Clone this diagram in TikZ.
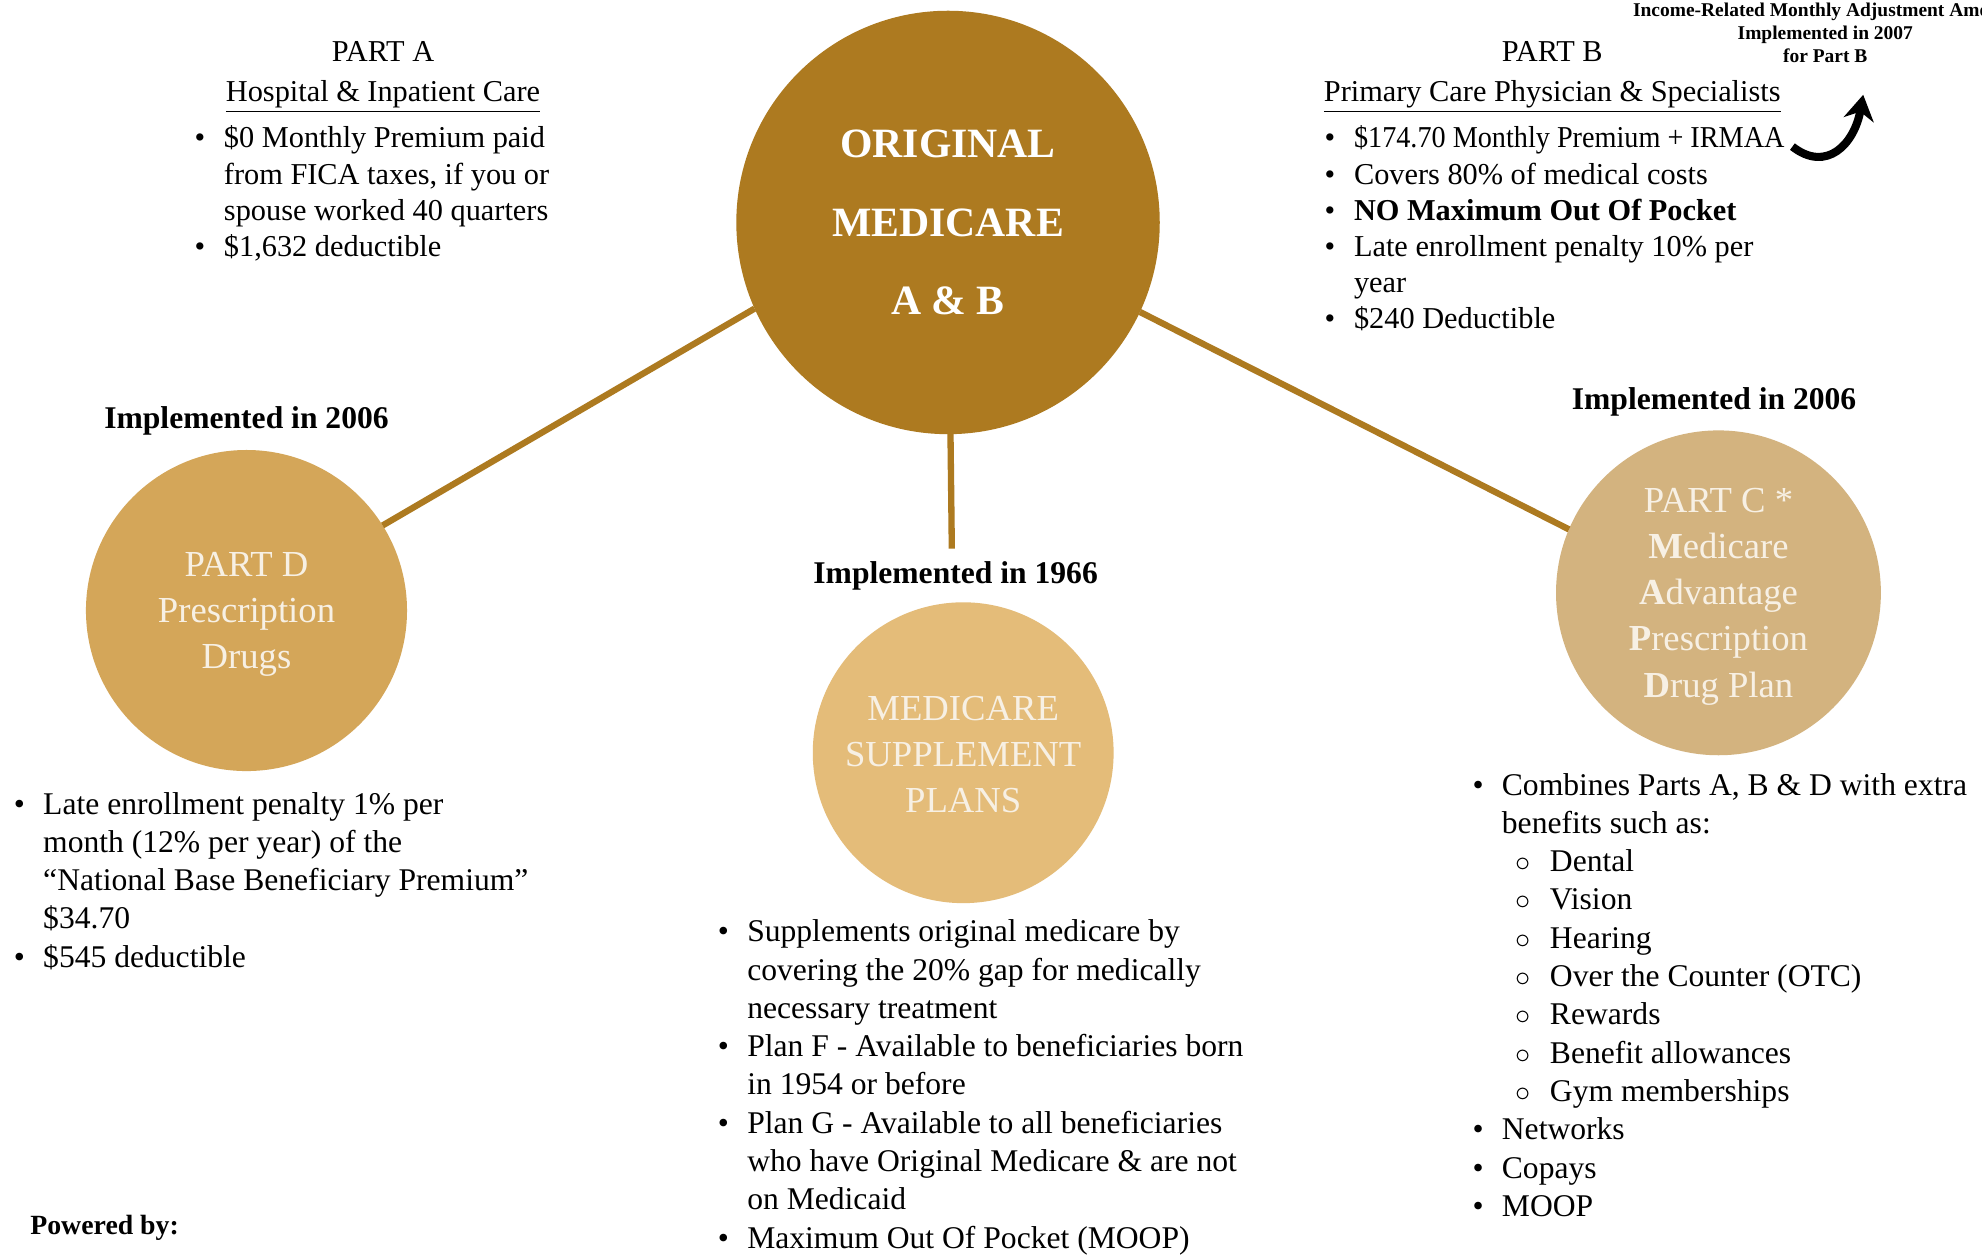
\documentclass[tikz,border=0pt]{standalone}
\usepackage{fontspec}
\setmainfont{Liberation Serif}
\usepackage{tikz}
\usetikzlibrary{arrows.meta}
\definecolor{goldDark}{RGB}{173,122,32}
\definecolor{goldD}{RGB}{212,166,89}
\definecolor{goldSup}{RGB}{228,188,121}
\definecolor{goldC}{RGB}{211,179,127}
\definecolor{cream}{RGB}{247,240,228}
\newenvironment{blist}{\begin{tabular}[t]{@{}p{11.6pt}@{}l@{}}}{\end{tabular}}
\newcommand{\bu}{\textbullet}
\newcommand{\subbu}[1]{\makebox[19pt][l]{\hspace{5.4pt}$\circ$}#1}

\begin{document}
\begin{tikzpicture}[x=0.5pt,y=-0.5pt,
    every node/.style={inner sep=0pt,outer sep=0pt},
    bubble/.style={circle},
    bubtext/.style={text=cream,align=center,font=\fontsize{14.5}{18.25}\selectfont},
    link/.style={draw=goldDark,line width=2.5pt},
    head/.style={anchor=base,font=\fontsize{12}{14.3}\selectfont},
    year/.style={anchor=base,font=\fontsize{12.5}{15}\selectfont\bfseries},
    toplist/.style={anchor=base west,font=\fontsize{12}{14.3}\selectfont},
    lowlist/.style={anchor=base west,font=\fontsize{12.5}{15.15}\selectfont}]

    % page size
    \useasboundingbox (0,0) rectangle (1568,993.7);
    \fill[white] (0,0) rectangle (1568,993.7);

    % the circles
    \node[circle,fill=goldDark,minimum size=167.5pt,text=white,align=center,
          font=\fontsize{16.5}{31}\selectfont\bfseries] (cOrig) at (750,176)
        {ORIGINAL\\MEDICARE\\A \& B};
    \node[bubble,fill=goldD,minimum size=127pt] (cPartD) at (195,483) {};
    \node[bubble,fill=goldSup,minimum size=119pt] (cSup) at (762,595.5) {};
    \node[bubble,fill=goldC,minimum size=128.5pt] (cPartC) at (1359.5,469) {};

    % circle texts
    \node[bubtext] (tPartD) at (195,486) {PART D\\Prescription\\Drugs};
    \node[bubtext] (tSup) at (762,597) {MEDICARE\\SUPPLEMENT\\PLANS};
    \node[bubtext] (tPartC) at (1359.5,472)
        {PART C *\\\textbf{M}edicare\\\textbf{A}dvantage\\\textbf{P}rescription\\\textbf{D}rug Plan};

    % connectors
    \coordinate (supTop) at (753,434);
    \draw[link] (cOrig.204) -- (cPartD.32);
    \draw[link] (cOrig.335) -- (cPartC.157);
    \draw[link] (cOrig) -- (supTop);

    % part A
    \node[head] (titleA) at (303,49) {PART A};
    \node[head] (subA) at (303,80) {\underline{Hospital \& Inpatient Care}};
    \node[toplist] (listA) at (154,117) {\begin{blist}
        \bu & \$0 Monthly Premium paid\\
            & from FICA taxes, if you or\\
            & spouse worked 40 quarters\\
        \bu & \$1,632 deductible
        \end{blist}};

    % part B
    \node[head] (titleB) at (1228,49) {PART B};
    \node[head] (subB) at (1228,80) {\underline{Primary Care Physician \& Specialists}};
    \node[toplist] (listB) at (1048,117) {\begin{blist}
        \bu & \scalebox{0.93}[1]{\$174.70 Monthly Premium + IRMAA}\\
        \bu & Covers 80\% of medical costs\\
        \bu & \textbf{NO Maximum Out Of Pocket}\\
        \bu & Late enrollment penalty 10\% per\\
            & year\\
        \bu & \$240 Deductible
        \end{blist}};

    % IRMAA note
    \node[align=center,font=\fontsize{7.7}{9}\selectfont\bfseries] (irmaa) at (1444,26)
        {Income-Related Monthly Adjustment Amount\\Implemented in 2007\\for Part B};
    \coordinate (irmaaTail) at (1418,116);
    \coordinate (irmaaTip) at (1474,75);
    \draw[line width=3.2pt,-{Stealth[length=10pt,width=12pt]}] (irmaaTail)
        .. controls (1445,137) and (1467,114) .. (irmaaTip);

    % year labels
    \node[year] (yearD) at (195,339) {Implemented in 2006};
    \node[year] (yearC) at (1356,324) {Implemented in 2006};
    \node[year] (yearSup) at (756,462) {Implemented in 1966};

    % part D list
    \node[lowlist] (listD) at (11,644) {\begin{blist}
        \bu & Late enrollment penalty 1\% per\\
            & month (12\% per year) of the\\
            & “National Base Beneficiary Premium”\\
            & \$34.70\\
        \bu & \$545 deductible
        \end{blist}};

    % supplement list
    \node[lowlist] (listSup) at (568,745) {\begin{blist}
        \bu & Supplements original medicare by\\
            & covering the 20\% gap for medically\\
            & necessary treatment\\
        \bu & Plan F - Available to beneficiaries born\\
            & in 1954 or before\\
        \bu & Plan G - Available to all beneficiaries\\
            & who have Original Medicare \& are not\\
            & on Medicaid\\
        \bu & Maximum Out Of Pocket (MOOP)
        \end{blist}};

    % part C list
    \node[lowlist] (listC) at (1165,629) {\begin{blist}
        \bu & Combines Parts A, B \& D with extra\\
            & benefits such as:\\
            & \subbu{Dental}\\
            & \subbu{Vision}\\
            & \subbu{Hearing}\\
            & \subbu{Over the Counter (OTC)}\\
            & \subbu{Rewards}\\
            & \subbu{Benefit allowances}\\
            & \subbu{Gym memberships}\\
        \bu & Networks\\
        \bu & Copays\\
        \bu & MOOP
        \end{blist}};

    \node[anchor=base west,font=\fontsize{11}{13}\selectfont\bfseries] (powered) at (24,977) {Powered by:};

\end{tikzpicture}
\end{document}
